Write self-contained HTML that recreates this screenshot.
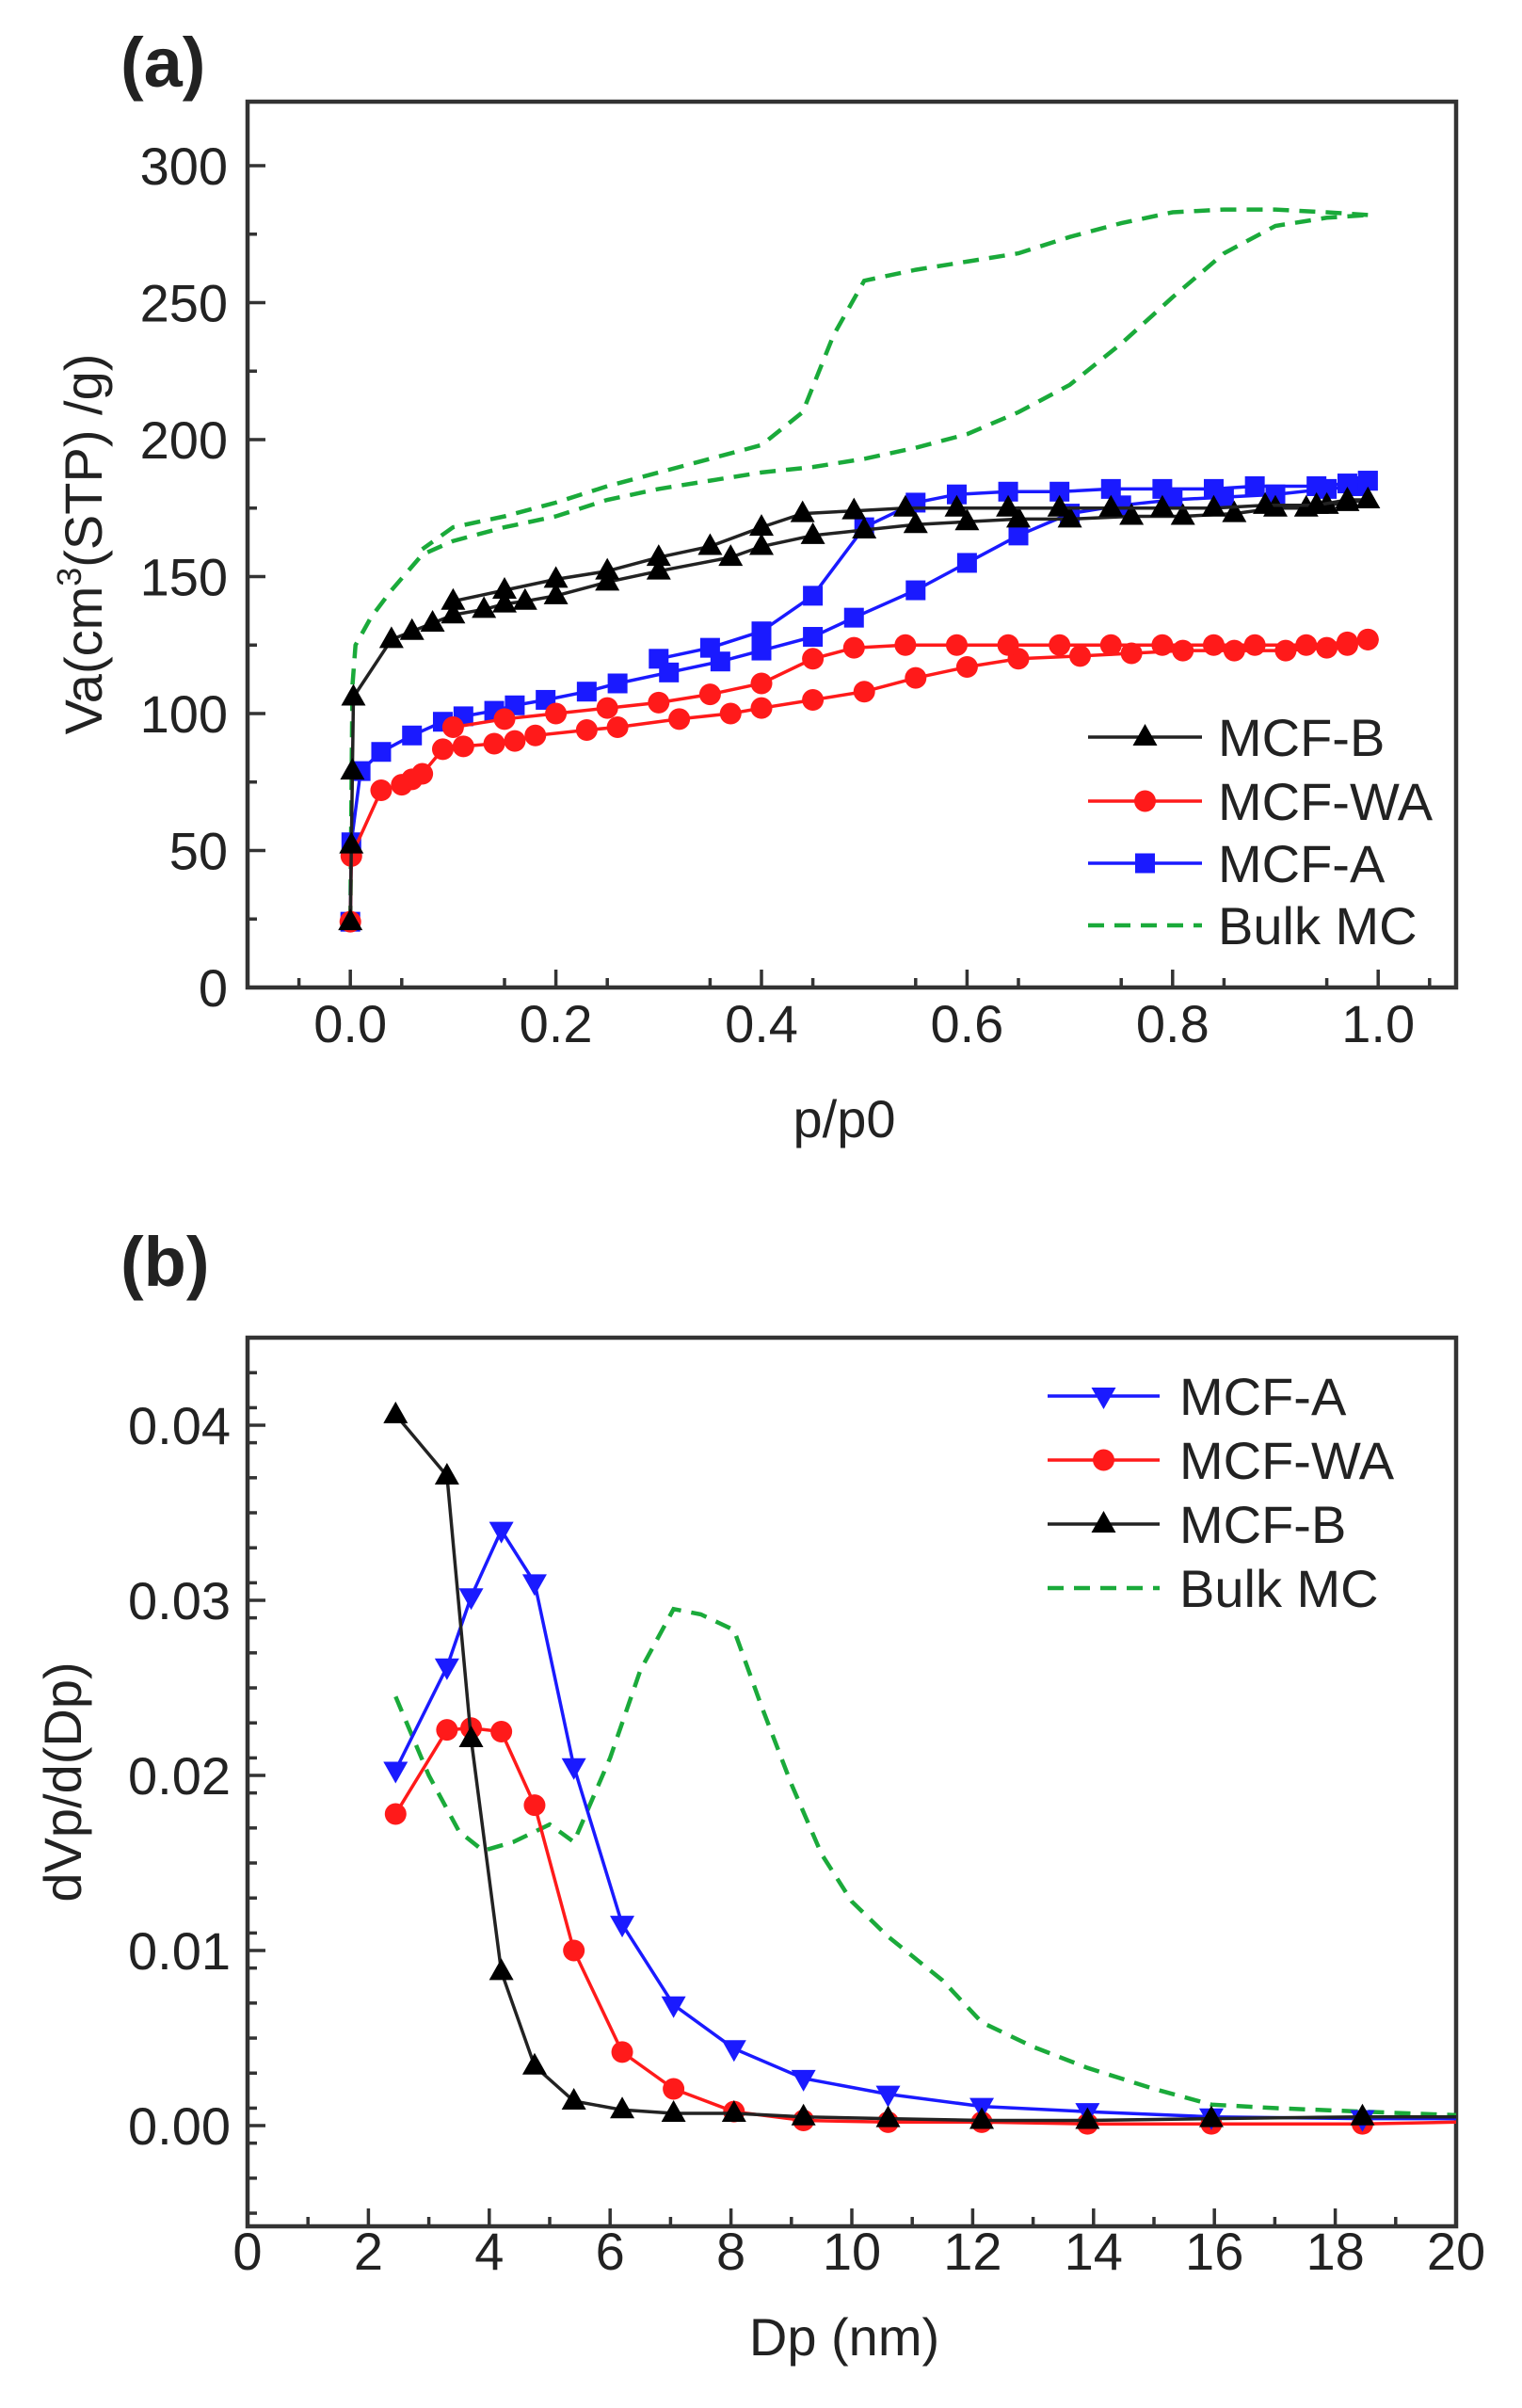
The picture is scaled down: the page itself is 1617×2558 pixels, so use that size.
<!DOCTYPE html>
<html><head><meta charset="utf-8"><style>
html,body{margin:0;padding:0;background:#fff}
svg{display:block}
text{font-family:"Liberation Sans",sans-serif;fill:#222}
</style></head><body>
<svg id="fig" width="1617" height="2558" viewBox="0 0 1617 2558" xmlns="http://www.w3.org/2000/svg"></svg>
<script>
// ---------- Panel (a) data ----------
const aB_adsX=[0,0.001,0.002,0.003,0.04,0.06,0.08,0.1,0.13,0.15,0.17,0.2,0.25,0.3,0.37,0.4,0.45,0.5,0.55,0.6,0.65,0.7,0.76,0.81,0.86,0.9,0.93,0.95,0.97,0.99];
const aB_adsY=[24,52,79,106,127,130,133,136,138,140,141,143,148,152,157,161,165,167,169,170,171,171,172,172,173,175,175,176,177,178];
const aB_desX=[0.99,0.97,0.94,0.89,0.84,0.79,0.74,0.69,0.64,0.59,0.54,0.49,0.44,0.4,0.35,0.3,0.25,0.2,0.15,0.1];
const aB_desY=[178,178,176,176,175,175,175,175,175,175,175,174,173,168,161,157,152,149,145,141];
const aWA_adsX=[0,0.001,0.03,0.05,0.06,0.07,0.09,0.11,0.14,0.16,0.18,0.23,0.26,0.32,0.37,0.4,0.45,0.5,0.55,0.6,0.65,0.71,0.76,0.81,0.86,0.91,0.95,0.97,0.99];
const aWA_adsY=[24,48,72,74,76,78,87,88,89,90,92,94,95,98,100,102,105,108,113,117,120,121,122,123,123,123,124,125,127];
const aWA_desX=[0.99,0.97,0.93,0.88,0.84,0.79,0.74,0.69,0.64,0.59,0.54,0.49,0.45,0.4,0.35,0.3,0.25,0.2,0.15,0.1];
const aWA_desY=[127,126,125,125,125,125,125,125,125,125,125,124,120,111,107,104,102,100,98,95];
const aA_adsX=[0,0.001,0.01,0.03,0.06,0.09,0.11,0.14,0.16,0.19,0.23,0.26,0.31,0.36,0.4,0.45,0.49,0.55,0.6,0.65,0.7,0.75,0.8,0.85,0.9,0.95,0.98,0.99];
const aA_adsY=[24,53,79,86,92,97,99,101,103,105,108,111,115,119,123,128,135,145,155,165,173,176,178,179,180,182,183,185];
const aA_desX=[0.99,0.97,0.94,0.88,0.84,0.79,0.74,0.69,0.64,0.59,0.55,0.5,0.45,0.4,0.35,0.3];
const aA_desY=[185,184,183,183,182,182,182,181,181,180,177,168,143,130,124,120];
const aM_adsX=[0,0.002,0.005,0.02,0.04,0.07,0.1,0.15,0.2,0.25,0.3,0.35,0.4,0.45,0.5,0.55,0.6,0.65,0.7,0.75,0.8,0.85,0.9,0.95,0.99];
const aM_adsY=[24,110,125,135,145,158,163,168,172,178,182,185,188,190,193,197,202,210,220,235,252,268,278,281,282];
const aM_desX=[0.99,0.95,0.9,0.85,0.8,0.75,0.7,0.65,0.6,0.55,0.5,0.47,0.44,0.4,0.35,0.3,0.25,0.2,0.15,0.1,0.07];
const aM_desY=[282,283,284,284,283,279,274,268,265,262,258,238,210,198,193,188,183,177,172,168,160];
const aXTicks=[0,0.2,0.4,0.6,0.8,1.0];
const aXTickLabels=["0.0","0.2","0.4","0.6","0.8","1.0"];
const aYTicks=[0,50,100,150,200,250,300];
const aYTickLabels=["0","50","100","150","200","250","300"];
// ---------- Panel (b) data ----------
const bX=[2.45,3.3,3.7,4.2,4.75,5.4,6.2,7.05,8.05,9.2,10.6,12.15,13.9,15.95,18.45,20];
const bA=[0.0203,0.0262,0.0302,0.034,0.031,0.0205,0.0115,0.0069,0.0044,0.0027,0.0018,0.0011,0.0008,0.0005,0.0004,0.0004];
const bWA=[0.0178,0.0226,0.0227,0.0225,0.0183,0.0100,0.0042,0.0021,0.0008,0.0003,0.0002,0.0002,0.0001,0.0001,0.0001,0.0002];
const bB=[0.0406,0.0371,0.0221,0.0088,0.0034,0.0014,0.0009,0.0007,0.0007,0.0005,0.0004,0.0003,0.0003,0.0004,0.0005,0.0005];
const bMX=[2.45,3,3.5,3.9,4.4,5,5.4,6,6.5,7.05,7.5,8.05,8.5,9,9.5,10,10.6,11.5,12.15,13,13.9,15,15.95,17,18.45,20];
const bMY=[0.0245,0.02,0.0168,0.0157,0.0162,0.0172,0.0162,0.021,0.026,0.0295,0.0292,0.0283,0.024,0.0195,0.0155,0.0128,0.0108,0.0083,0.0059,0.0045,0.0033,0.0021,0.0012,0.001,0.0008,0.0006];
const bXTicks=[0,2,4,6,8,10,12,14,16,18,20];
const bXTickLabels=["0","2","4","6","8","10","12","14","16","18","20"];
const bYTicks=[0,0.01,0.02,0.03,0.04];
const bYTickLabels=["0.00","0.01","0.02","0.03","0.04"];

const NS="http://www.w3.org/2000/svg";
const svg=document.getElementById('fig');
function mk(tag,attrs,parent){const e=document.createElementNS(NS,tag);for(const k in attrs)e.setAttribute(k,attrs[k]);(parent||svg).appendChild(e);return e;}

const A={l:263,r:1547,t:108,b:1049,x0:-0.1,x1:(1547-263)/1092-0.1,y0:0,y1:(1049-108)/2.91};
const Bp={l:263,r:1547,t:1421,b:2365,x0:0,x1:20,y0:-0.00575,y1:0.045};
function sx(P,v){return P.l+(v-P.x0)/(P.x1-P.x0)*(P.r-P.l);}
function sy(P,v){return P.b-(v-P.y0)/(P.y1-P.y0)*(P.b-P.t);}

function marker(g,shape,x,y,color){
  let m;
  if(shape==='tri') m=mk('polygon',{points:`${x},${y-14} ${x-13},${y+9} ${x+13},${y+9}`,fill:'#000'},g);
  else if(shape==='dtri') m=mk('polygon',{points:`${x},${y+14} ${x-13},${y-9} ${x+13},${y-9}`,fill:color},g);
  else if(shape==='circ') m=mk('circle',{cx:x,cy:y,r:11.5,fill:color},g);
  else m=mk('rect',{x:x-10.5,y:y-10.5,width:21,height:21,fill:color},g);
  
  
}
function series(P,name,xs,ys,color,shape,dashed){
  const g=mk('g',{});
  
  
  const d=xs.map((v,i)=>(i?'L':'M')+sx(P,v).toFixed(1)+','+sy(P,ys[i]).toFixed(1)).join(' ');
  const p=mk('path',{d:d,fill:'none',stroke:color,'stroke-width':dashed?4.5:3.5,'stroke-dasharray':dashed?'17 11':'none'},g);
  
  
  if(shape) xs.forEach((v,i)=>{ if(v<19.9) marker(g,shape,sx(P,v),sy(P,ys[i]),color); });
}
function frame(P,name,xt,xl,yt,yl,xminor,yminor,xlabY,ylabX){
  const g=mk('g',{});
  
  
  const f=mk('rect',{x:P.l,y:P.t,width:P.r-P.l,height:P.b-P.t,fill:'none',stroke:'#333','stroke-width':4.5},g);
  
  
  xminor.forEach(v=>{const x=sx(P,v);mk('line',{x1:x,x2:x,y1:P.b,y2:P.b-10,stroke:'#333','stroke-width':3.5},g);});
  yminor.forEach(v=>{const y=sy(P,v);mk('line',{x1:P.l,x2:P.l+10,y1:y,y2:y,stroke:'#333','stroke-width':3.5},g);});
  xt.forEach((v,i)=>{const x=sx(P,v);mk('line',{x1:x,x2:x,y1:P.b,y2:P.b-19,stroke:'#333','stroke-width':3.5},g);
    const t=mk('text',{x:x,y:xlabY,'font-size':56,'text-anchor':'middle'},g);t.textContent=xl[i];
    
    });
  yt.forEach((v,i)=>{const y=sy(P,v);mk('line',{x1:P.l,x2:P.l+19,y1:y,y2:y,stroke:'#333','stroke-width':3.5},g);
    const t=mk('text',{x:ylabX,y:y+20,'font-size':56,'text-anchor':'end'},g);t.textContent=yl[i];
    
    });
}
function legend(entries,x1,x2,tx,ys){
  const g=mk('g',{});
  
  
  entries.forEach((e,i)=>{
    const y=ys[i];
    mk('line',{x1:x1,x2:x2,y1:y,y2:y,stroke:e.c,'stroke-width':e.dash?4.5:3.5,'stroke-dasharray':e.dash?'17 11':'none'},g);
    if(e.s) marker(g,e.s,(x1+x2)/2,y,e.c);
    const t=mk('text',{x:tx,y:y+20,'font-size':56},g);t.textContent=e.n;
    
    
  });
}
function label(txt,x,y,size,extra,name){
  const t=mk('text',Object.assign({x:x,y:y,'font-size':size},extra||{}));
  t.textContent=txt;
  
  
  return t;
}

// Panel a
const axm=[];for(let v=-0.05;v<1.07;v+=0.1)axm.push(v);
const aym=[];for(let v=25;v<323;v+=50)aym.push(v);
frame(A,'panel-a',aXTicks,aXTickLabels,aYTicks,aYTickLabels,axm,aym,1107,242);
series(A,'bulk-mc-adsorption',aM_adsX,aM_adsY,'#1aaa3a',null,true);
series(A,'bulk-mc-desorption',aM_desX,aM_desY,'#1aaa3a',null,true);
series(A,'mcf-a-adsorption',aA_adsX,aA_adsY,'#1a1aff','sq');
series(A,'mcf-a-desorption',aA_desX,aA_desY,'#1a1aff','sq');
series(A,'mcf-wa-adsorption',aWA_adsX,aWA_adsY,'#ff1a1a','circ');
series(A,'mcf-wa-desorption',aWA_desX,aWA_desY,'#ff1a1a','circ');
series(A,'mcf-b-adsorption',aB_adsX,aB_adsY,'#222','tri');
series(A,'mcf-b-desorption',aB_desX,aB_desY,'#222','tri');
legend([{n:'MCF-B',c:'#222',s:'tri'},{n:'MCF-WA',c:'#ff1a1a',s:'circ'},{n:'MCF-A',c:'#1a1aff',s:'sq'},{n:'Bulk MC',c:'#1aaa3a',dash:true}],1156,1277,1294,[783,851,917,983]);
label('(a)',128,92,74,{'font-weight':'bold'},'panel-a-label');
label('p/p0',897,1208,56,{'text-anchor':'middle'},'x-axis-title-a');
const ya=label('',0,0,56,{'text-anchor':'middle',transform:'translate(108,578) rotate(-90)'},'y-axis-title-a');
ya.innerHTML='Va(cm<tspan font-size="36" dy="-22">3</tspan><tspan dy="22">(STP) /g)</tspan>';

// Panel b
const bxm=[];for(let v=1;v<20;v+=2)bxm.push(v);
const bym=[];for(let v=-0.005;v<0.045;v+=0.002){if(Math.abs(Math.round(v*100)-v*100)>1e-6)bym.push(v);}
frame(Bp,'panel-b',bXTicks,bXTickLabels,bYTicks,bYTickLabels,bxm,bym,2411,245);
series(Bp,'bulk-mc-psd',bMX,bMY,'#1aaa3a',null,true);
series(Bp,'mcf-wa-psd',bX,bWA,'#ff1a1a','circ');
series(Bp,'mcf-a-psd',bX,bA,'#1a1aff','dtri');
series(Bp,'mcf-b-psd',bX,bB,'#222','tri');
legend([{n:'MCF-A',c:'#1a1aff',s:'dtri'},{n:'MCF-WA',c:'#ff1a1a',s:'circ'},{n:'MCF-B',c:'#222',s:'tri'},{n:'Bulk MC',c:'#1aaa3a',dash:true}],1113,1232,1253,[1483,1551,1619,1687]);
label('(b)',128,1366,74,{'font-weight':'bold'},'panel-b-label');
label('Dp (nm)',897,2502,56,{'text-anchor':'middle'},'x-axis-title-b');
label('dVp/d(Dp)',0,0,56,{'text-anchor':'middle',transform:'translate(86,1893) rotate(-90)'},'y-axis-title-b');
</script>
</body></html>
